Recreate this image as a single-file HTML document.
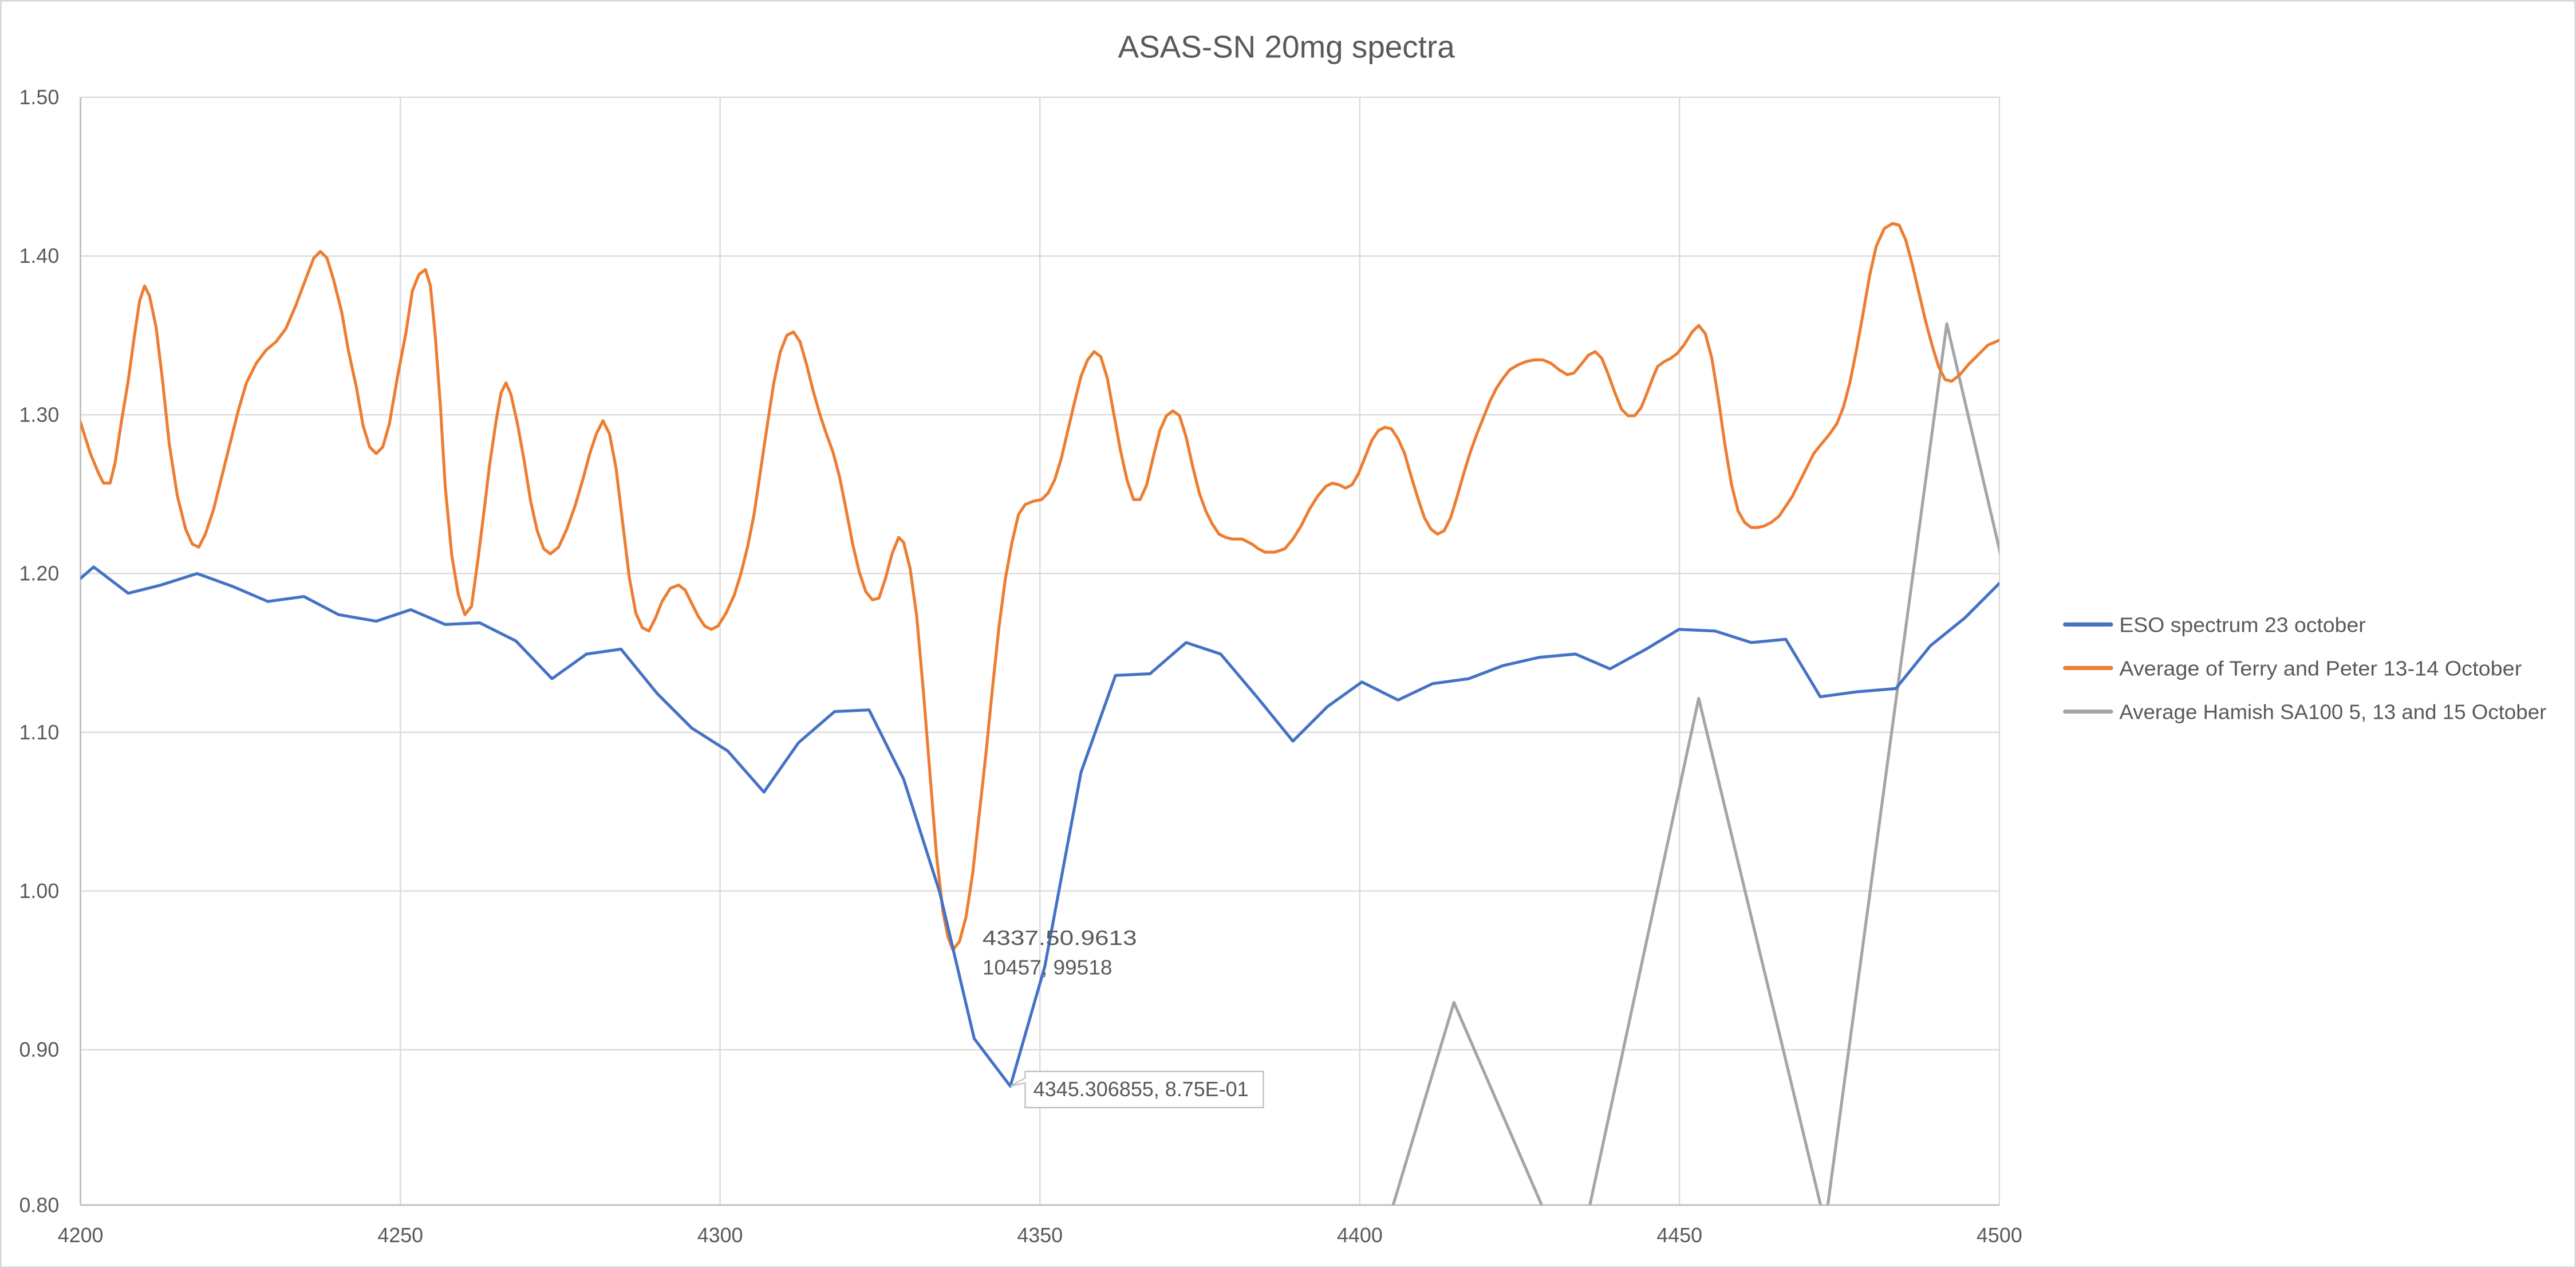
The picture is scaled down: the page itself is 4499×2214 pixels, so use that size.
<!DOCTYPE html>
<html><head><meta charset="utf-8"><style>
html,body{margin:0;padding:0;background:#fff}
svg{display:block}
text{font-family:"Liberation Sans",sans-serif;fill:#595959}
</style></head><body>
<svg width="4499" height="2214" viewBox="0 0 1568 771.6" preserveAspectRatio="none" xmlns="http://www.w3.org/2000/svg">
<rect x="0.5" y="0.5" width="1567" height="770.6" fill="#fff" stroke="#d9d9d9" stroke-width="1"/>
<text x="783" y="35" font-size="19" text-anchor="middle" textLength="205" lengthAdjust="spacingAndGlyphs">ASAS-SN 20mg spectra</text>
<g stroke="#d9d9d9" stroke-width="0.8">
<line x1="49" y1="59.2" x2="1217" y2="59.2"/><line x1="49" y1="155.8" x2="1217" y2="155.8"/><line x1="49" y1="252.4" x2="1217" y2="252.4"/><line x1="49" y1="349.0" x2="1217" y2="349.0"/><line x1="49" y1="445.6" x2="1217" y2="445.6"/><line x1="49" y1="542.2" x2="1217" y2="542.2"/><line x1="49" y1="638.8" x2="1217" y2="638.8"/>
<line x1="243.7" y1="59.2" x2="243.7" y2="733.3"/><line x1="438.3" y1="59.2" x2="438.3" y2="733.3"/><line x1="633" y1="59.2" x2="633" y2="733.3"/><line x1="827.7" y1="59.2" x2="827.7" y2="733.3"/><line x1="1022.3" y1="59.2" x2="1022.3" y2="733.3"/><line x1="1217" y1="59.2" x2="1217" y2="733.3"/>
</g>
<g stroke="#bfbfbf" stroke-width="1"><line x1="49" y1="59.2" x2="49" y2="733.3"/><line x1="49" y1="733.3" x2="1217" y2="733.3"/></g>
<g font-size="12.5" text-anchor="end">
<text x="36" y="63.5">1.50</text><text x="36" y="160">1.40</text><text x="36" y="256.7">1.30</text><text x="36" y="353.3">1.20</text><text x="36" y="450">1.10</text><text x="36" y="546.5">1.00</text><text x="36" y="643">0.90</text><text x="36" y="737.6">0.80</text>
</g>
<g font-size="12.5" text-anchor="middle">
<text x="49" y="756">4200</text><text x="243.7" y="756">4250</text><text x="438.3" y="756">4300</text><text x="633" y="756">4350</text><text x="827.7" y="756">4400</text><text x="1022.3" y="756">4450</text><text x="1217" y="756">4500</text>
</g>
<defs><clipPath id="c"><rect x="49" y="59.2" width="1168" height="674.1"/></clipPath></defs>
<g clip-path="url(#c)" fill="none" stroke-linejoin="round" stroke-linecap="round" stroke-width="1.8">
<polyline stroke="#a5a5a5" points="840,760 885,610 950,760 962,760 1034,425 1111,745 1185,197 1230,390"/>
<polyline stroke="#ed7d31" points="49,257 55,276 60,288 63,294 67,294 70,282 74,256 78,232 82,203 85,183 88,174 91,180 95,199 99,232 103,270 108,302 113,322 117,331 121,333 125,325 130,310 135,290 140,270 145,250 150,233 156,221 162,213 168,208 174,200 180,186 186,170 191,157 195,153 199,157 203,170 208,190 212,213 217,236 221,259 225,272 229,276 233,272 237,258 242,229 247,203 251,177 255,167 259,164 262,174 265,205 268,246 271,296 275,338 279,362 283,374 287,369 291,340 295,308 298,283 302,256 305,239 308,233 311,240 315,258 319,280 323,305 327,323 331,334 335,337 340,333 345,322 350,308 355,291 359,276 363,264 367,256 371,264 375,285 379,318 383,351 387,373 391,382 395,384 399,376 403,366 408,358 413,356 417,359 421,367 425,375 429,381 433,383 437,381 442,373 447,362 451,349 455,333 459,313 463,286 467,259 471,233 475,214 479,204 483,202 487,208 491,222 495,238 499,252 503,264 507,275 511,290 515,310 519,331 523,348 527,360 531,365 535,364 539,352 543,337 547,327 550,330 554,346 558,375 562,420 566,470 570,520 574,555 577,570 580,578 584,573 588,558 592,532 596,496 600,460 604,420 608,382 612,352 616,330 620,313 624,307 629,305 634,304 638,300 642,292 646,279 650,262 654,245 658,229 662,219 666,214 670,217 674,230 678,252 682,274 686,292 690,304 694,304 698,295 702,278 706,262 710,253 714,250 718,253 722,266 726,284 730,300 734,311 738,319 742,325 746,327 750,328 756,328 762,331 766,334 770,336 776,336 782,334 787,328 792,320 797,310 802,302 807,296 811,294 815,295 819,297 823,295 827,288 831,278 835,268 839,262 843,260 847,261 851,267 855,276 859,290 863,303 867,315 871,322 875,325 879,323 883,315 887,302 891,288 895,275 899,264 903,254 907,244 911,236 915,230 919,225 924,222 929,220 934,219 939,219 944,221 949,225 954,228 958,227 963,221 967,216 971,214 975,218 979,228 983,239 987,249 991,253 995,253 999,248 1003,238 1006,230 1009,223 1013,220 1017,218 1021,215 1025,210 1030,202 1034,198 1038,203 1042,218 1046,243 1050,271 1054,295 1058,311 1062,318 1066,321 1070,321 1074,320 1078,318 1083,314 1087,308 1091,302 1095,294 1100,284 1104,276 1108,271 1113,265 1118,258 1122,248 1126,233 1130,213 1134,191 1138,168 1142,150 1147,139 1152,136 1156,137 1160,146 1164,161 1168,178 1172,195 1176,210 1180,223 1184,231 1188,232 1193,228 1198,222 1204,216 1210,210 1217,207"/>
<polyline stroke="#4472c4" points="49,352 57,345 78,361 98,356 120,349 142,357 163,366 185,363 206,374 229,378 250,371 271,380 292,379 314,390 336,413 357,398 378,395 400,422 421,443 443,457 465,482 486,452 508,433 529,432 550,474 572,543 593,632 615,661 636,588 658,470 679,411 700,410 722,391 743,398 765,424 787,451 808,430 829,415 851,426 872,416 894,413 915,405 937,400 959,398 980,407 1002,395 1022,383 1044,384 1066,391 1087,389 1108,424 1130,421 1154,419 1175,393 1196,376 1217,355"/>
</g>
<text x="598" y="575" font-size="12.5" fill="#404040" textLength="94" lengthAdjust="spacingAndGlyphs">4337.50.9613</text>
<text x="598" y="593" font-size="12.5" fill="#404040" textLength="79" lengthAdjust="spacingAndGlyphs">10457, 99518</text>
<polygon points="615,661 624,656 624,652 769,652 769,674 624,674 624,659" fill="#fff" stroke="#bfbfbf" stroke-width="0.8"/>
<text x="629" y="667" font-size="12.5" textLength="131" lengthAdjust="spacingAndGlyphs">4345.306855, 8.75E-01</text>
<g stroke-width="2.5" stroke-linecap="round">
<line x1="1257" y1="380" x2="1285" y2="380" stroke="#4472c4"/>
<line x1="1257" y1="406.5" x2="1285" y2="406.5" stroke="#ed7d31"/>
<line x1="1257" y1="433" x2="1285" y2="433" stroke="#a5a5a5"/>
</g>
<g font-size="12.5">
<text x="1290" y="384.5" textLength="150" lengthAdjust="spacingAndGlyphs">ESO spectrum 23 october</text>
<text x="1290" y="411" textLength="245" lengthAdjust="spacingAndGlyphs">Average of Terry and Peter 13-14 October</text>
<text x="1290" y="437.5" textLength="260" lengthAdjust="spacingAndGlyphs">Average Hamish SA100 5, 13 and 15 October</text>
</g>
</svg>
</body></html>
